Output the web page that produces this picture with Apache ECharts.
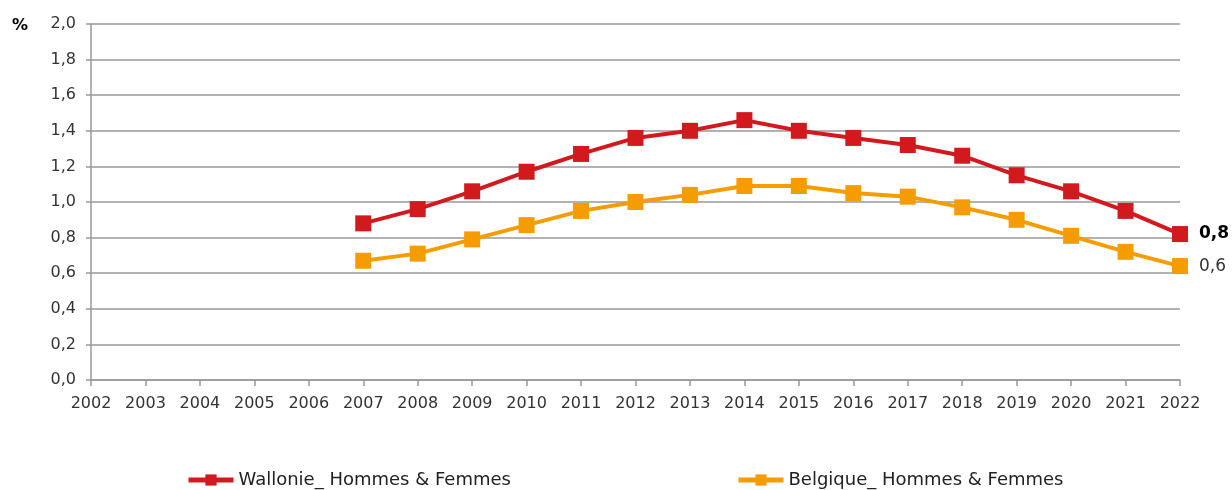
<!DOCTYPE html>
<html>
<head>
<meta charset="utf-8">
<script src="https://cdn.jsdelivr.net/npm/echarts@6/dist/echarts.min.js"></script>
<style>
  html, body { margin: 0; padding: 0; background: #fff; }
  #main { width: 1232px; height: 490px; }
</style>
</head>
<body>
<div id="main"></div>
<script>
// années
var years = ['2002','2003','2004','2005','2006','2007','2008','2009','2010','2011','2012',
             '2013','2014','2015','2016','2017','2018','2019','2020','2021','2022'];
// séries (en %), pas de données avant 2007
var wallonie = [null,null,null,null,null,0.88,0.96,1.06,1.17,1.27,1.36,1.40,1.46,1.40,1.36,1.32,1.26,1.15,1.06,0.95,0.82];
var belgique = [null,null,null,null,null,0.67,0.71,0.79,0.87,0.95,1.00,1.04,1.09,1.09,1.05,1.03,0.97,0.90,0.81,0.72,0.64];

var fmt = function (v) { return v.toFixed(1).replace('.', ','); };

// étiquette seulement sur le dernier point
function withLastLabel(arr, bold) {
  return arr.map(function (v, i) {
    if (i !== arr.length - 1) return v;
    return {
      value: v,
      label: {
        show: true, position: 'right', distance: 11,
        fontSize: 17, color: bold ? '#000' : '#333',
        fontWeight: bold ? 'bold' : 'normal',
        formatter: function (p) { return fmt(p.value); }
      }
    };
  });
}

var font = '"DejaVu Sans", sans-serif';
var legendText = { fontSize: 18, color: '#222' };
var myChart = echarts.init(document.getElementById('main'));
myChart.setOption({
  animation: false,
  textStyle: { fontFamily: font },
  graphic: [{
    type: 'text', left: 12, top: 18,
    style: { text: '%', fontSize: 16, fontWeight: 'bold', fill: '#000', fontFamily: font }
  }],
  grid: { left: 91, right: 52, top: 24, bottom: 110, containLabel: false },
  legend: [{
    left: 186, top: 471, itemWidth: 45, itemHeight: 14, padding: 0,
    lineStyle: { width: 5 },
    textStyle: legendText,
    data: ['Wallonie_ Hommes & Femmes']
  }, {
    left: 736, top: 471, itemWidth: 45, itemHeight: 14, padding: 0,
    lineStyle: { width: 5 },
    textStyle: legendText,
    data: ['Belgique_ Hommes & Femmes']
  }],
  xAxis: {
    type: 'category',
    boundaryGap: false,
    data: years,
    axisLine: { lineStyle: { color: '#999', width: 1.5 } },
    axisTick: { show: true, length: 6, lineStyle: { color: '#999', width: 1.5 } },
    axisLabel: { fontSize: 16, color: '#333', margin: 16 }
  },
  yAxis: {
    type: 'value',
    min: 0, max: 2, interval: 0.2,
    axisLine: { show: true, lineStyle: { color: '#999', width: 1.5 } },
    axisTick: { show: true, length: 5, lineStyle: { color: '#999', width: 1.5 } },
    axisLabel: { fontSize: 16, color: '#333', margin: 15, formatter: fmt },
    splitLine: { lineStyle: { color: '#999', width: 1.5 } }
  },
  series: [{
    name: 'Wallonie_ Hommes & Femmes',
    type: 'line',
    data: withLastLabel(wallonie, true),
    symbol: 'rect', symbolSize: 16,
    lineStyle: { width: 4, color: '#d2191d' },
    itemStyle: { color: '#d2191d' },
    z: 3
  }, {
    name: 'Belgique_ Hommes & Femmes',
    type: 'line',
    data: withLastLabel(belgique, false),
    symbol: 'rect', symbolSize: 16,
    lineStyle: { width: 4, color: '#f59c00' },
    itemStyle: { color: '#f59c00' },
    z: 2
  }]
});
</script>
</body>
</html>
